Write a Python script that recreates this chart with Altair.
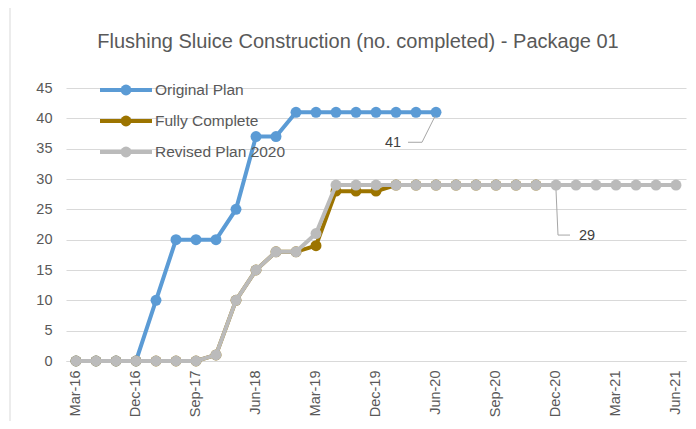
import altair as alt
import pandas as pd

dates = ["Mar-16", "Jun-16", "Sep-16", "Dec-16", "Mar-17", "Jun-17", "Sep-17", "Dec-17",
         "Mar-18", "Jun-18", "Sep-18", "Dec-18", "Mar-19", "Jun-19", "Sep-19", "Dec-19",
         "Feb-20", "Apr-20", "Jun-20", "Jul-20", "Aug-20", "Sep-20", "Oct-20", "Nov-20",
         "Dec-20", "Jan-21", "Feb-21", "Mar-21", "Apr-21", "May-21", "Jun-21"]
tick_labels = ["Mar-16", "Dec-16", "Sep-17", "Jun-18", "Mar-19", "Dec-19",
               "Jun-20", "Sep-20", "Dec-20", "Mar-21", "Jun-21"]
y_ticks = [0, 5, 10, 15, 20, 25, 30, 35, 40, 45]

original_plan = [0, 0, 0, 0, 10, 20, 20, 20, 25, 37, 37, 41, 41, 41, 41, 41, 41, 41, 41]
fully_complete = [0, 0, 0, 0, 0, 0, 0, 1, 10, 15, 18, 18, 19, 28, 28, 28, 29, 29, 29, 29,
                  29, 29, 29, 29]
revised_plan = [0, 0, 0, 0, 0, 0, 0, 1, 10, 15, 18, 18, 21, 29, 29, 29, 29, 29, 29, 29,
                29, 29, 29, 29, 29, 29, 29, 29, 29, 29, 29]

series_names = ["Original Plan", "Fully Complete", "Revised Plan 2020"]
series_colors = ["#5B9BD5", "#9C7400", "#BBBBBB"]
title_text = "Flushing Sluice Construction (no. completed) - Package 01"

rows = []
for name, vals in zip(series_names, [original_plan, fully_complete, revised_plan]):
    for i, v in enumerate(vals):
        rows.append({"date": dates[i], "value": v, "series": name})
df = pd.DataFrame(rows)

FONT = "Liberation Sans"
TXT = "#595959"

x_enc = alt.X("date:O", sort=dates, title=None,
              scale=alt.Scale(domain=dates),
              axis=alt.Axis(values=tick_labels, labelAngle=-90, labelFontSize=14.5,
                            labelColor=TXT, labelFont=FONT, ticks=False, domain=True,
                            domainColor="#D9D9D9", domainWidth=1, labelPadding=9,
                            labelAlign="right", labelBaseline="middle", grid=False,
                            labelOverlap=False))
y_enc = alt.Y("value:Q", title=None,
              scale=alt.Scale(domain=[0, 45], nice=False),
              axis=alt.Axis(values=y_ticks, labelFontSize=14.5, labelColor=TXT,
                            labelFont=FONT, ticks=False, domain=False, gridColor="#D9D9D9",
                            gridWidth=1, labelPadding=14, labelOverlap=False))

layers = []
for name, col in zip(series_names, series_colors):
    sub = df[df.series == name]
    layers.append(
        alt.Chart(sub).mark_line(color=col, strokeWidth=4).encode(x=x_enc, y=y_enc)
    )
    layers.append(
        alt.Chart(sub).mark_point(color=col, filled=True, size=120, opacity=1).encode(x=x_enc, y=y_enc)
    )

# Data labels with leader lines
lab41 = pd.DataFrame({"date": ["Jun-20"], "value": [41], "label": ["41"]})
lab29 = pd.DataFrame({"date": ["Dec-20"], "value": [29], "label": ["29"]})

lead = []
lead.append(alt.Chart(lab41).mark_rule(color="#A6A6A6", strokeWidth=1, x2Offset=-14, y2Offset=30,
                                       xOffset=-1, yOffset=4).encode(
    x=x_enc, y=y_enc, x2="date:O", y2="value:Q"))
lead.append(alt.Chart(lab41).mark_rule(color="#A6A6A6", strokeWidth=1, xOffset=-14, yOffset=30,
                                       x2Offset=-28, y2Offset=30).encode(
    x=x_enc, y=y_enc, x2="date:O", y2="value:Q"))
lead.append(alt.Chart(lab41).mark_text(font=FONT, fontSize=14.5, color="#404040", dx=-43, dy=31,
                                       align="center", baseline="middle").encode(
    x=x_enc, y=y_enc, text="label:N"))
lead.append(alt.Chart(lab29).mark_rule(color="#A6A6A6", strokeWidth=1, yOffset=5, x2Offset=2,
                                       y2Offset=50).encode(
    x=x_enc, y=y_enc, x2="date:O", y2="value:Q"))
lead.append(alt.Chart(lab29).mark_rule(color="#A6A6A6", strokeWidth=1, xOffset=2, yOffset=50,
                                       x2Offset=14, y2Offset=50).encode(
    x=x_enc, y=y_enc, x2="date:O", y2="value:Q"))
lead.append(alt.Chart(lab29).mark_text(font=FONT, fontSize=14.5, color="#404040", dx=31, dy=51,
                                       align="center", baseline="middle").encode(
    x=x_enc, y=y_enc, text="label:N"))

# Manual legend inside plot (one small layer per entry)
legend_layers = []
for name, col, ypix in zip(series_names, series_colors, [2, 33, 64]):
    one = pd.DataFrame({"series": [name]})
    legend_layers.append(alt.Chart(one).mark_rule(color=col, strokeWidth=4).encode(
        x=alt.value(34), x2=alt.value(86), y=alt.value(ypix)))
    legend_layers.append(alt.Chart(one).mark_point(color=col, filled=True, size=120,
                                                   opacity=1).encode(
        x=alt.value(60), y=alt.value(ypix)))
    legend_layers.append(alt.Chart(one).mark_text(font=FONT, fontSize=15.5, color=TXT,
                                                  align="left", baseline="middle").encode(
        x=alt.value(89), y=alt.value(ypix), text="series:N"))

# Chart title (as text above the plot) and chart frame
title_layer = alt.Chart(pd.DataFrame({"t": [title_text]})).mark_text(
    font=FONT, fontSize=20, color=TXT, align="center", baseline="middle").encode(
    x=alt.value(292), y=alt.value(-46), text="t:N")

border = alt.Chart(pd.DataFrame({"a": [0]})).mark_rect(fillOpacity=0, stroke="#D9D9D9",
                                                       strokeWidth=1).encode(
    x=alt.value(-56), x2=alt.value(640), y=alt.value(-83), y2=alt.value(345))

chart = alt.layer(border, title_layer, *layers, *lead, *legend_layers).properties(
    width=620, height=273,
    padding={"left": 58, "top": 80, "right": 2, "bottom": 60},
    autosize=alt.AutoSizeParams(type="none"),
).configure_view(stroke=None).configure_scale(pointPadding=0.5)

chart.save("out.html", embed_options={"renderer": "svg", "actions": False})
